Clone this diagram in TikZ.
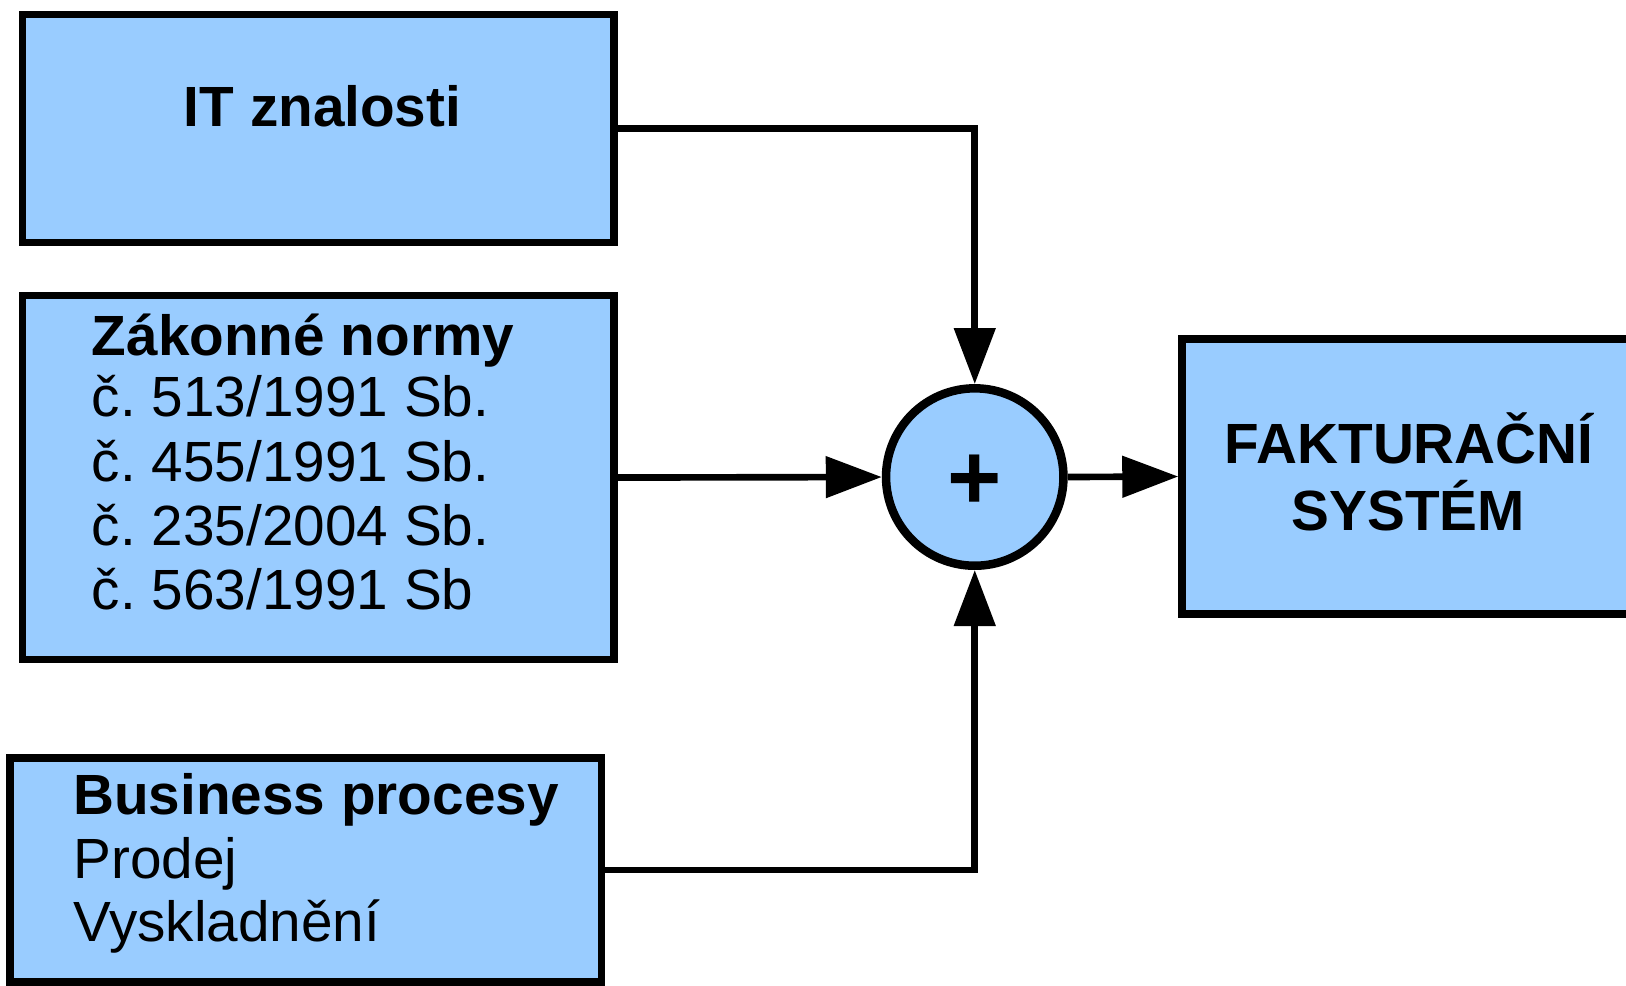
\documentclass[tikz,border=0pt]{standalone}
\usepackage{fontspec}
\setmainfont{Liberation Sans}
\usetikzlibrary{arrows.meta}
\definecolor{boxblue}{HTML}{99CCFF}
\frenchspacing
\begin{document}
\begin{tikzpicture}[x=0.01cm,y=-0.01cm,
  blk/.style={draw=black, fill=boxblue, line width=0.072cm, rectangle, inner sep=0pt},
  txt/.style={inner sep=0pt, font=\fontsize{15.55}{17.6}\selectfont},
  hd/.style={inner sep=0pt, font=\fontsize{15.55}{17.6}\selectfont\bfseries},
  conn/.style={line width=0.064cm, -{Triangle[length=0.54cm,width=0.39cm]}},
]
\clip (0,0) rectangle (1568,950);
\node[blk, minimum width=5.70cm, minimum height=2.20cm] (b1) at (307,124) {};
\node[blk, minimum width=5.70cm, minimum height=3.51cm] (b2) at (307,460.5) {};
\node[blk, minimum width=5.70cm, minimum height=2.16cm] (b3) at (295,839) {};
\node[blk, minimum width=4.36cm, minimum height=2.65cm] (b4) at (1358,459.5) {};
\node[draw=black, fill=boxblue, circle, line width=0.082cm, minimum size=1.71cm, inner sep=0pt] (c) at (940,460) {};
\node[inner sep=0pt, font=\fontsize{25.5}{25.5}\selectfont\bfseries] (plus) at (940,465) {+};

\draw[conn] (b1.east) -| (c.north);
\draw[conn] (b2.east) -- (c.west);
\draw[conn] (b3.east) -| (c.south);
\draw[conn] (c.east) -- (b4.west);

\node[hd, anchor=base] (t1) at (311,122) {IT znalosti};
\node[hd, anchor=base west] (t2) at (88,343) {Zákonné normy};
\node[txt, anchor=base west] (t2a) at (88,402) {č. 513/1991 Sb.};
\node[txt, anchor=base west] (t2b) at (88,464) {č. 455/1991 Sb.};
\node[txt, anchor=base west] (t2c) at (88,526) {č. 235/2004 Sb.};
\node[txt, anchor=base west] (t2d) at (88,588) {č. 563/1991 Sb};
\node[hd, anchor=base west] (t3) at (70,785) {Business procesy};
\node[txt, anchor=base west] (t3a) at (70,847) {Prodej};
\node[txt, anchor=base west] (t3b) at (70,908) {Vyskladnění};
\node[hd, anchor=base] (t4a) at (1359,447) {FAKTURAČNÍ};
\node[hd, anchor=base] (t4b) at (1358,512) {SYSTÉM};
\end{tikzpicture}
\end{document}
